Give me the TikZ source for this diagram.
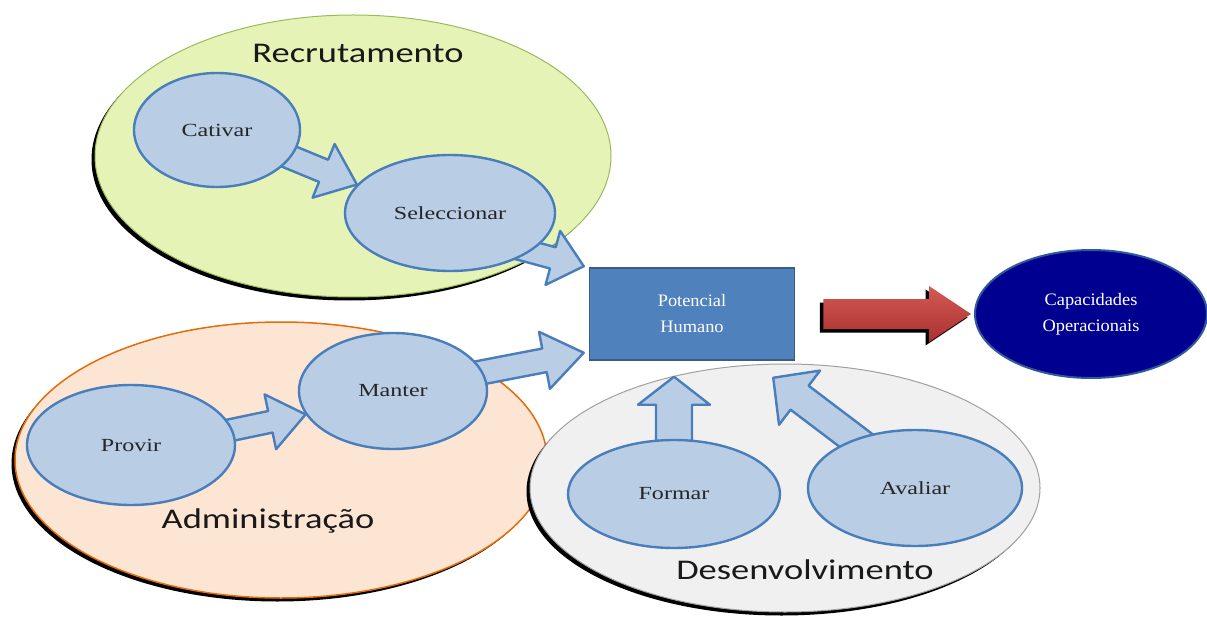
\documentclass[tikz,border=0pt]{standalone}
\usepackage{fontspec}
\usetikzlibrary{shapes.geometric,calc,shadows}
\newfontfamily\grpfont[FakeStretch=1.28]{Carlito}
\newfontfamily\bubfont[FakeStretch=1.3]{Liberation Serif}
\newfontfamily\boxfont[FakeStretch=1.05]{Liberation Serif}

\definecolor{recfill}{HTML}{E6F3B6}
\definecolor{recedge}{HTML}{9BBB59}
\definecolor{admfill}{HTML}{FDE5D3}
\definecolor{admedge}{HTML}{E46C0A}
\definecolor{devfill}{HTML}{F0F0F0}
\definecolor{devedge}{HTML}{A0A0A0}
\definecolor{bubfill}{HTML}{B9CDE5}
\definecolor{bubedge}{HTML}{4A7EBB}
\definecolor{potfill}{HTML}{4F81BD}
\definecolor{potedge}{HTML}{385D8A}
\definecolor{capfill}{HTML}{000090}
\definecolor{capedge}{HTML}{2E5A9A}
\definecolor{redtop}{HTML}{D45A56}
\definecolor{redbot}{HTML}{A9302D}

\pgfdeclarelayer{groups}
\pgfdeclarelayer{links}
\pgfsetlayers{groups,links,main}

% block arrow: #1 style, #2 tail, #3 tip, #4 half shaft, #5 half head, #6 head length
\newcommand\blockarrow[6]{%
  \coordinate (ba-t) at #2;
  \coordinate (ba-p) at #3;
  \coordinate (ba-h) at ($(ba-p)!#6!(ba-t)$);
  \draw[#1] ($(ba-t)!#4!90:(ba-p)$) -- ($(ba-h)!#4!90:(ba-p)$)
    -- ($(ba-h)!#5!90:(ba-p)$) -- (ba-p) -- ($(ba-h)!#5!-90:(ba-p)$)
    -- ($(ba-h)!#4!-90:(ba-p)$) -- ($(ba-t)!#4!-90:(ba-p)$) -- cycle;
}

\tikzset{
  grpshape/.style={ellipse, inner sep=0pt,
    drop shadow={shadow xshift=-3.5pt, shadow yshift=-3.5pt, fill=black, opacity=1}},
  grplabel/.style={font=\grpfont\fontsize{28.5}{30}\selectfont, text=black!90},
  bubble/.style={ellipse, inner sep=0pt, fill=bubfill, draw=bubedge, line width=2.4pt,
    font=\bubfont\fontsize{18.5}{20}\selectfont, text=black!85},
  flowarrow/.style={fill=bubfill, draw=bubedge, line width=2.4pt, line join=round},
  bigarrow/.style={top color=redtop, bottom color=redbot, draw=none,
    drop shadow={shadow xshift=-3.5pt, shadow yshift=-3.5pt, fill=black, opacity=1}},
}

\begin{document}
\begin{tikzpicture}[x=1pt, y=-1pt]
\useasboundingbox (0,0) rectangle (1207,628);

% group areas
\begin{pgfonlayer}{groups}
  \node[grpshape, fill=recfill, draw=recedge, line width=1pt,
        minimum width=516pt, minimum height=282pt] (rec) at (353,156) {};
  \node[grpshape, fill=admfill, draw=admedge, line width=1.5pt,
        minimum width=532pt, minimum height=276pt] (adm) at (281,460) {};
  \node[grpshape, fill=devfill, draw=devedge, line width=1pt,
        minimum width=510pt, minimum height=248pt] (dev) at (785,488) {};
  \node[grplabel] (reclbl) at (358,53) {Recrutamento};
  \node[grplabel] (admlbl) at (268,521) {Administração};
  \node[grplabel] (devlbl) at (805,570) {Desenvolvimento};
\end{pgfonlayer}

% activities
\node[bubble, minimum width=166pt, minimum height=114pt] (cat) at (217,130) {Cativar};
\node[bubble, minimum width=210pt, minimum height=116pt] (sel) at (450,213) {Seleccionar};
\node[bubble, minimum width=208pt, minimum height=120pt] (prov) at (131,445) {Provir};
\node[bubble, minimum width=188pt, minimum height=116pt] (man) at (393,391) {Manter};
\node[bubble, minimum width=212pt, minimum height=108pt] (form) at (674,494) {Formar};
\node[bubble, minimum width=214pt, minimum height=116pt] (ava) at (915,488) {Avaliar};

% result
\node[rectangle, fill=potfill, draw=potedge, line width=1.5pt,
      minimum width=205pt, minimum height=92pt, align=center, text=white,
      font=\boxfont\fontsize{17.5}{26}\selectfont] (pot) at (692,314)
      {Potencial\\Humano};
\node[ellipse, inner sep=0pt, fill=capfill, draw=capedge, line width=2pt,
      minimum width=232pt, minimum height=128pt, align=center, text=white,
      font=\boxfont\fontsize{17.5}{26}\selectfont] (cap) at (1091,314)
      {Capacidades\\Operacionais};

% flow arrows
\begin{pgfonlayer}{links}
  \blockarrow{flowarrow}{($(cat.center)!0.85!(cat.-20)$)}{(sel.163)}{12pt}{29pt}{36pt}
  \blockarrow{flowarrow}{($(sel.center)!0.85!(sel.-28)$)}{($(pot.north west)+(-5,-1)$)}{11pt}{28pt}{32pt}
  \blockarrow{flowarrow}{($(prov.center)!0.85!(prov.8)$)}{(man.195)}{11pt}{28pt}{36pt}
  \blockarrow{flowarrow}{($(man.center)!0.85!(man.12)$)}{($(pot.south west)+(-5,-8)$)}{12pt}{29pt}{40pt}
  \blockarrow{flowarrow}{(form.center)}{($(form.center |- pot.south)+(0,16)$)}{18pt}{36pt}{28pt}
  \blockarrow{flowarrow}{($(ava.center)!0.6!(ava.140)$)}{($(pot.south east)+(-22,17)$)}{15pt}{34pt}{33pt}
\end{pgfonlayer}

% outcome arrow
\blockarrow{bigarrow}{($(pot.east)+(28,0)$)}{($(cap.west)+(-3,0)$)}{15pt}{28pt}{42pt}

\end{tikzpicture}
\end{document}
